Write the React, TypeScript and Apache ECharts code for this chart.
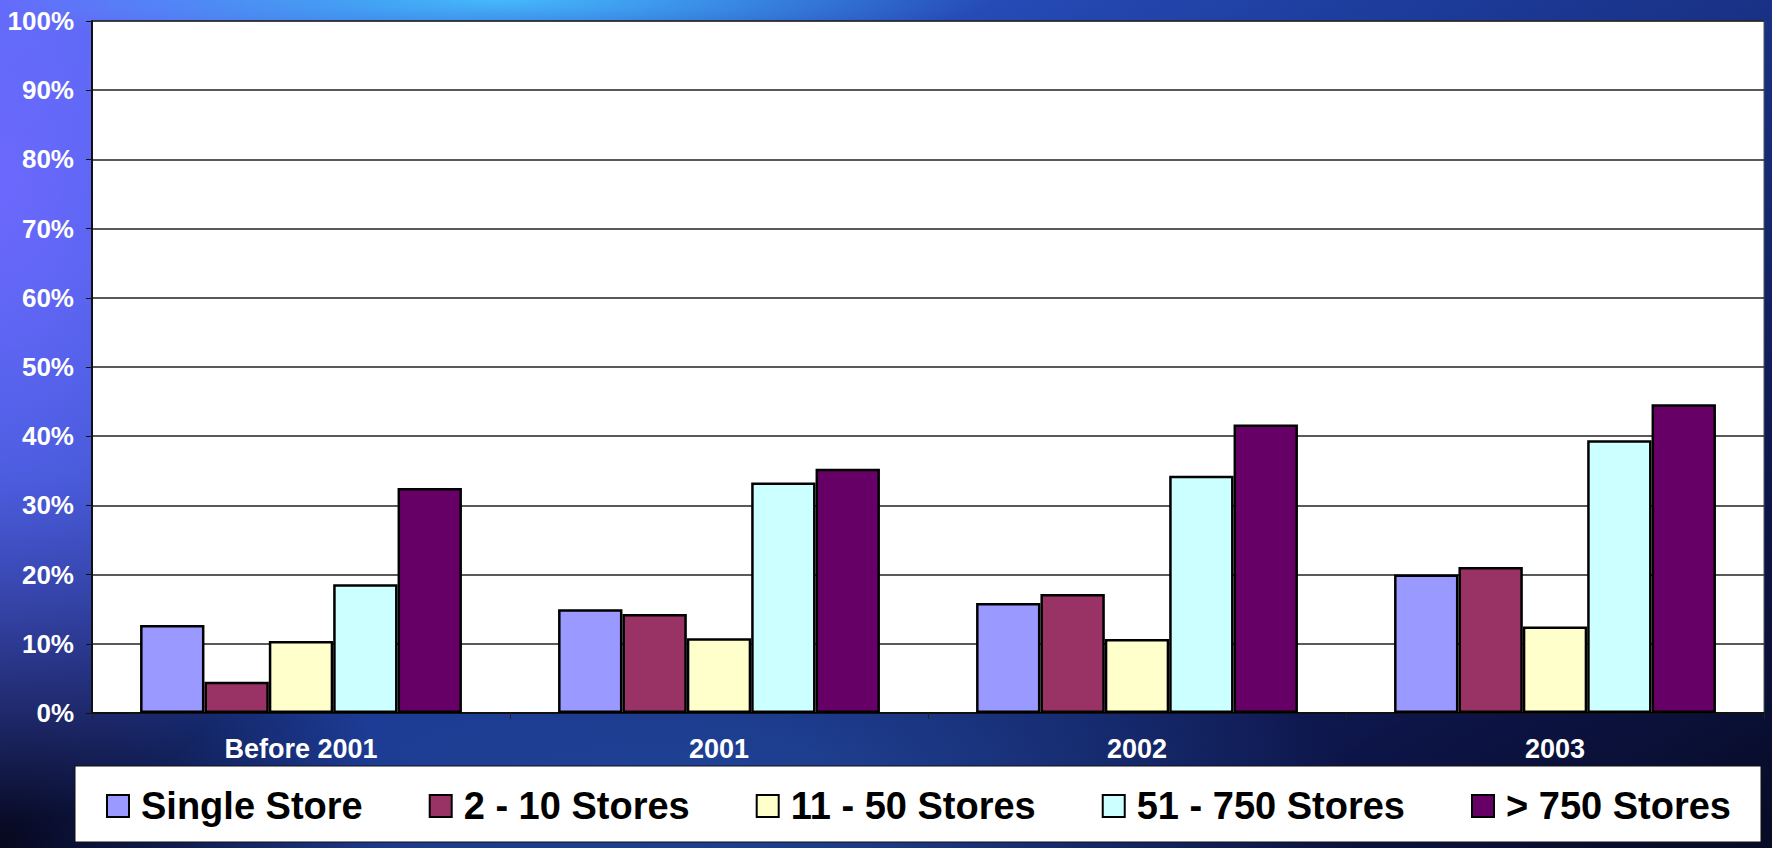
import React, { useEffect, useRef } from "react";
import * as echarts from "echarts";

const categories = ["Before 2001", "2001", "2002", "2003"];
const seriesNames = ["Single Store", "2 - 10 Stores", "11 - 50 Stores", "51 - 750 Stores", "> 750 Stores"];
const singleStore = [12.7, 15.0, 15.9, 20.0];
const stores2to10 = [4.5, 14.3, 17.2, 21.1];
const stores11to50 = [10.4, 10.8, 10.7, 12.5];
const stores51to750 = [18.6, 33.3, 34.3, 39.4];
const storesOver750 = [32.5, 35.3, 41.7, 44.6];
const yTicks = [0, 10, 20, 30, 40, 50, 60, 70, 80, 90, 100];

const colors = ["#9999FF", "#993366", "#FFFFCC", "#CCFFFF", "#660066"];
const values = [singleStore, stores2to10, stores11to50, stores51to750, storesOver750];

export default function App() {
  const ref = useRef<HTMLDivElement>(null);
  useEffect(() => {
    if (!ref.current) return;
    const chart = echarts.init(ref.current, undefined, { renderer: "svg" });
    chart.setOption({
      animation: false,
      backgroundColor: "transparent",
      textStyle: { fontFamily: "Liberation Sans, Arial, sans-serif" },
      grid: {
        left: 92,
        right: 8,
        top: 21,
        bottom: 135,
        show: true,
        backgroundColor: "#ffffff",
        borderColor: "#555",
        borderWidth: 1,
      },
      graphic: [
        {
          type: "rect",
          shape: { x: 75, y: 766, width: 1686, height: 76 },
          style: { fill: "#ffffff", stroke: "#111", lineWidth: 1 },
          z: 0,
        },
      ],
      legend: {
        data: seriesNames,
        left: 101,
        top: 782,
        itemWidth: 22,
        itemHeight: 22,
        itemGap: 66,
        icon: "rect",
        textStyle: {
          color: "#000",
          fontSize: 38,
          fontWeight: "bold",
          fontFamily: "Liberation Sans, Arial, sans-serif",
          padding: [0, 0, 0, 7],
        },
        z: 5,
      },
      xAxis: {
        type: "category",
        data: categories,
        axisLine: { show: true, lineStyle: { color: "#111", width: 2 } },
        axisTick: { show: true, length: 6, lineStyle: { color: "#222" } },
        axisLabel: { color: "#fff", fontSize: 27, fontWeight: "bold", margin: 22 },
      },
      yAxis: {
        type: "value",
        min: yTicks[0],
        max: yTicks[yTicks.length - 1],
        interval: 10,
        axisLine: { show: true, lineStyle: { color: "#111", width: 2 } },
        axisTick: { show: true, length: 6, lineStyle: { color: "#111" } },
        axisLabel: { color: "#fff", fontSize: 26, fontWeight: "bold", margin: 18, formatter: "{value}%" },
        splitLine: { show: true, lineStyle: { color: "#222", width: 1.5 } },
      },
      series: seriesNames.map((name, i) => ({
        name,
        type: "bar",
        data: values[i],
        barGap: "0%",
        barCategoryGap: "23%",
        itemStyle: { color: colors[i], borderColor: "#000", borderWidth: 2.5 },
      })),
    });
    return () => chart.dispose();
  }, []);
  return (
    <div
      style={{
        position: "absolute",
        left: 0,
        top: 0,
        width: 1772,
        height: 848,
        background:
          "radial-gradient(ellipse 28% 6% at 28% 0%, rgba(70,190,255,0.95), rgba(70,190,255,0) 100%)," +
          "radial-gradient(ellipse 22% 75% at 0% 22%, rgba(110,105,255,0.95), rgba(110,105,255,0) 100%)," +
          "radial-gradient(ellipse 22% 45% at 0% 100%, rgba(6,6,26,0.97), rgba(6,6,26,0) 100%)," +
          "radial-gradient(ellipse 35% 25% at 42% 95%, rgba(40,90,180,0.6), rgba(40,90,180,0) 100%)," +
          "linear-gradient(150deg, #4f70f0 0%, #2c55c8 22%, #1c3a98 45%, #172b78 62%, #0d1548 82%, #070b25 100%)",
      }}
    >
      <div ref={ref} style={{ width: 1772, height: 848 }} />
    </div>
  );
}
